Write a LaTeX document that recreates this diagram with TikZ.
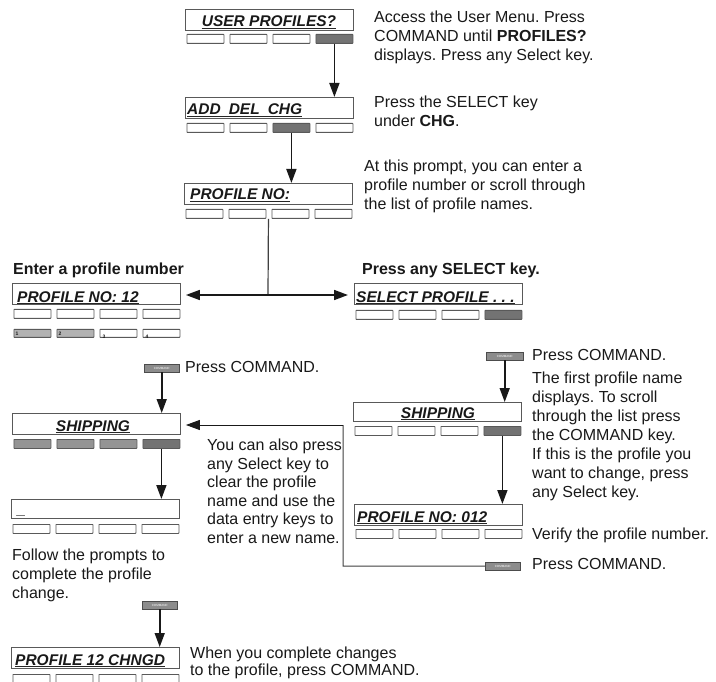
\documentclass[tikz,border=0pt]{standalone}
\usepackage{fontspec}
\setmainfont{Liberation Sans}
\usetikzlibrary{arrows.meta}
\frenchspacing
\newcommand\mykeys[7]{%
  \node[#4] (#1a) at (#2+1.5,#3) {};
  \node[#5] (#1b) at (#2+44.5,#3) {};
  \node[#6] (#1c) at (#2+87.5,#3) {};
  \node[#7] (#1d) at (#2+130.5,#3) {};}
\begin{document}
\frenchspacing
\begin{tikzpicture}[x=1pt,y=-1pt,
  disp/.style={draw=black!65, line width=0.9pt, minimum width=168pt, minimum height=21pt, anchor=north west, inner sep=0pt},
  key/.style={draw=black!65, line width=0.8pt, minimum width=37pt, minimum height=9pt, anchor=north west, inner sep=0pt, rounded corners=0.5pt},
  keyon/.style={key, fill=black!55},
  keylt/.style={key, fill=black!42},
  keyst/.style={key, fill=black!30, minimum height=8pt},
  keysm/.style={key, minimum height=8pt},
  dtext/.style={inner sep=0pt, anchor=base west, font=\fontsize{15.5}{18}\selectfont\bfseries\itshape, text=black!90},
  body/.style={inner sep=0pt, anchor=north west, align=left, font=\fontsize{16}{18.7}\selectfont, text=black!90},
  bodyb/.style={body, font=\fontsize{16}{18.7}\selectfont\bfseries},
  arr/.style={line width=1.6pt, draw=black!90, -{Triangle[width=10pt,length=14pt]}},
  link/.style={line width=1pt, draw=black!75},
  uline/.style={line width=1.1pt, draw=black!85},
  cmd/.style={draw=black!70, fill=black!45, minimum width=35pt, minimum height=8pt, inner sep=0pt, anchor=north west, font=\fontsize{3}{3}\selectfont, text=white},
  tiny/.style={inner sep=0pt, font=\fontsize{5}{5}\selectfont\bfseries, text=black!90}
]
\fill[white] (0,0) rectangle (716,682);
\useasboundingbox (0,0) rectangle (716,682);

% ---------- top column ----------
\node[disp] (b1) at (185,9) {};
\node[dtext, anchor=base] (t1) at (269,27) {USER PROFILES?};
\draw[uline] ([yshift=-1.8pt]t1.base west) -- ([yshift=-1.8pt]t1.base east);
\mykeys{k1}{185}{34}{key}{key}{key}{keyon}
\node[body] (x1) at (374,11) {Access the User Menu. Press\\COMMAND until \textbf{PROFILES?}\\displays. Press any Select key.};

\node[disp] (b2) at (185,97) {};
\node[dtext] (t2) at (187,115) {ADD\hspace{8pt}DEL\hspace{8pt}CHG};
\draw[uline] ([yshift=-1.8pt]t2.base west) -- ([yshift=-1.8pt]t2.base east);
\mykeys{k2}{185}{123}{key}{key}{keyon}{key}
\node[body] (x2) at (374,96) {Press the SELECT key\\under \textbf{CHG}.};

\draw[arr] (k1d.south) -- (k1d.south |- b2.north);

\node[disp] (b3) at (184,183) {};
\node[dtext] (t3) at (190,200) {PROFILE NO:};
\draw[uline] ([yshift=-1.8pt]t3.base west) -- ([yshift=-1.8pt]t3.base east);
\mykeys{k3}{184}{209}{key}{key}{key}{key}
\node[body] (x3) at (364,160) {At this prompt, you can enter a\\profile number or scroll through\\the list of profile names.};

\draw[arr] (k2c.south) -- (k2c.south |- b3.north);

% ---------- split ----------
\node[bodyb] (h1) at (13,263) {Enter a profile number};
\node[bodyb] (h2) at (362,263) {Press any SELECT key.};

\node[disp] (L1) at (12,283) {};
\node[dtext] (tL1) at (17,302) {PROFILE NO: 12};
\draw[uline] ([yshift=-1.8pt]tL1.base west) -- ([yshift=-1.8pt]tL1.base east);
\mykeys{kL1}{12}{309}{key}{key}{key}{key}
\mykeys{nL1}{12}{329}{keyst}{keyst}{keysm}{keysm}
\node[tiny, anchor=west] (n1) at ([xshift=2pt]nL1a.west) {1};
\node[tiny, anchor=west] (n2) at ([xshift=2pt]nL1b.west) {2};
\node[tiny, anchor=south west] (n3) at ([xshift=3pt,yshift=-0.5pt]nL1c.south west) {3};
\node[tiny, anchor=south west] (n4) at ([xshift=3pt,yshift=-0.5pt]nL1d.south west) {4};

\node[disp] (R1) at (354,283) {};
\node[dtext] (tR1) at (356,302) {SELECT PROFILE . . .};
\draw[uline] ([yshift=-1.8pt]tR1.base west) -- ([yshift=-1.8pt]tR1.base east);
\mykeys{kR1}{354}{310}{key}{key}{key}{keyon}

\coordinate (split) at (268,295);
\draw[link, line width=1.2pt] (b3.south |- k3a.south) -- (split);
\draw[arr, shorten >=5pt] (split) -- (L1.east |- split);
\draw[arr, shorten >=6pt] (split) -- (R1.west |- split);

% ---------- left branch ----------
\node[cmd] (c1) at (144,364) {COMMAND};
\node[body] (xc1) at (185,361) {Press COMMAND.};

\node[disp] (L2) at (12,413) {};
\node[dtext, anchor=base] (tL2) at (93,431) {SHIPPING};
\draw[uline] ([yshift=-1.8pt]tL2.base west) -- ([yshift=-1.8pt]tL2.base east);
\mykeys{kL2}{12}{439}{keylt}{keylt}{keylt}{keyon}
\draw[arr] (c1.south) -- (c1.south |- L2.north);

\node[disp, minimum height=19pt] (L3) at (11,499) {};
\node[dtext] (tL3) at (17,514) {\_};
\mykeys{kL3}{11}{524}{key}{key}{key}{key}
\draw[arr] (kL2d.south) -- (kL2d.south |- L3.north);

\node[body] (xf) at (12,549) {Follow the prompts to\\complete the profile\\change.};

\node[cmd] (c2) at (142,601) {COMMAND};
\node[disp] (L4) at (11,647) {};
\node[dtext] (tL4) at (15,665) {PROFILE 12 CHNGD};
\draw[uline] ([yshift=-1.8pt]tL4.base west) -- ([yshift=-1.8pt]tL4.base east);
\mykeys{kL4}{11}{674}{key}{key}{key}{key}
\draw[arr] (c2.south) -- (c2.south |- L4.north);
\node[body, font=\fontsize{16}{16.5}\selectfont] (xw) at (190,647) {When you complete changes\\to the profile, press COMMAND.};

\node[body, font=\fontsize{16}{18.5}\selectfont] (xy) at (207,439) {You can also press\\any Select key to\\clear the profile\\name and use the\\data entry keys to\\enter a new name.};

% ---------- right branch ----------
\node[cmd, minimum width=37pt] (c3) at (486,352) {COMMAND};
\node[body] (xc3) at (532,349) {Press COMMAND.};

\node[disp, minimum height=19pt] (R2) at (353,402) {};
\node[dtext, anchor=base] (tR2) at (438,418) {SHIPPING};
\draw[uline] ([yshift=-1.8pt]tR2.base west) -- ([yshift=-1.8pt]tR2.base east);
\mykeys{kR2}{353}{426}{key}{key}{key}{keyon}
\draw[arr] (c3.south) -- (c3.south |- R2.north);

\node[body, font=\fontsize{16}{19}\selectfont] (xt) at (532,372) {The first profile name\\displays. To scroll\\through the list press\\the COMMAND key.\\If this is the profile you\\want to change, press\\any Select key.};

\node[disp] (R3) at (354,504) {};
\node[dtext] (tR3) at (357,522) {PROFILE NO: 012};
\draw[uline] ([yshift=-1.8pt]tR3.base west) -- ([yshift=-1.8pt]tR3.base east);
\mykeys{kR3}{354}{529}{key}{key}{key}{key}
\draw[arr] (kR2d.south) -- (kR2d.south |- R3.north);

\node[body] (xv) at (532,528) {Verify the profile number.};

\node[cmd] (c4) at (485,562) {COMMAND};
\node[body] (xc4) at (532,558) {Press COMMAND.};

\coordinate (q1) at (343,566);
\coordinate (q2) at (343,425);
\draw[link] (c4.west) -- (q1) -- (q2);
\draw[arr, line width=1pt, shorten >=5pt] (q2) -- (L2.east |- q2);
\end{tikzpicture}
\end{document}
